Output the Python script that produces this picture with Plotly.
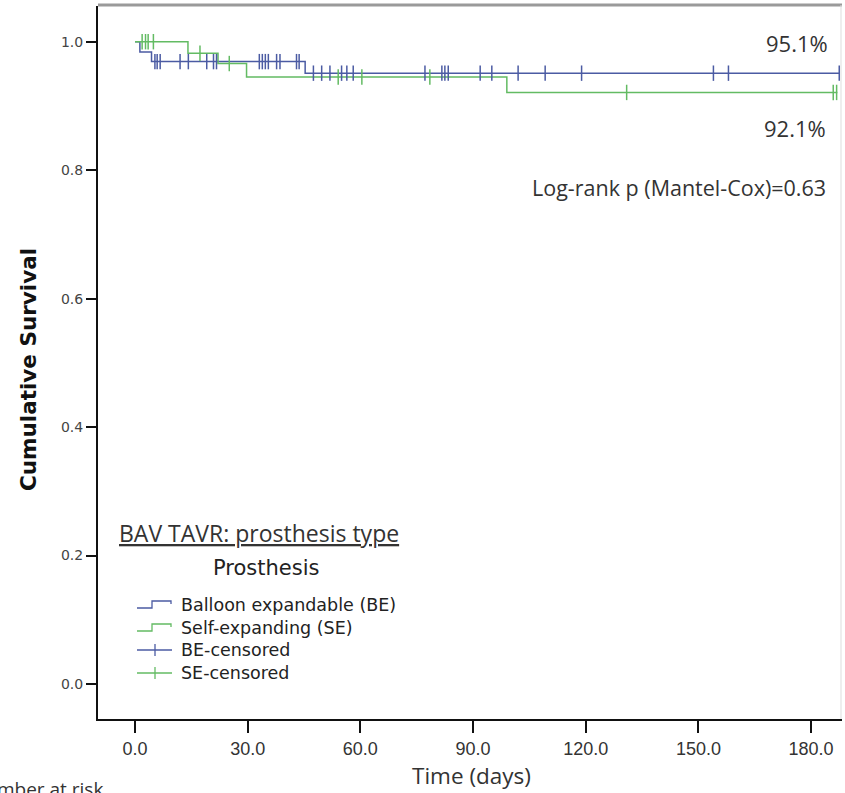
import numpy as np
import plotly.graph_objects as go

# ---------------- data ----------------
be_times = [0.0, 1.3, 4.4, 45.3]
be_surv = [1.0, 0.984, 0.969, 0.951]
be_end = 187.5

se_times = [0.0, 14.1, 22.1, 29.7, 99.0]
se_surv = [1.0, 0.982, 0.966, 0.945, 0.921]
se_end = 187.0

be_censored = [5.3, 5.9, 6.7, 12.0, 14.2, 19.1, 20.9, 21.7, 33.1, 33.9, 34.7, 35.5,
               37.7, 38.6, 43.0, 43.7, 47.5, 49.7, 51.9, 55.0, 56.4, 58.1, 77.2,
               81.7, 82.5, 83.4, 91.9, 95.0, 102.0, 109.2, 118.9, 154.0, 158.0, 187.5]
se_censored = [1.9, 2.8, 3.5, 4.9, 17.3, 25.1, 54.1, 60.4, 78.5, 130.9, 185.9, 186.8]

x_ticks = [0, 30, 60, 90, 120, 150, 180]
y_ticks = [0.0, 0.2, 0.4, 0.6, 0.8, 1.0]

BLUE = "#4b5ba3"
GREEN = "#63bb63"

W, H = 845, 793
L, R, T, B = 98, 3, 6, 74
PW, PH = W - L - R, H - T - B


def px(xp):
    return (xp - L) / PW


def py(yp):
    return (H - B - yp) / PH


def surv_at(times, surv, t):
    idx = np.searchsorted(np.array(times), np.array(t), side="right") - 1
    return list(np.array(surv)[idx])


fig = go.Figure()

for times, surv, end, col in [(be_times, be_surv, be_end, BLUE), (se_times, se_surv, se_end, GREEN)]:
    fig.add_trace(go.Scatter(x=list(times) + [end], y=list(surv) + [surv[-1]], mode="lines",
                             line=dict(color=col, width=1.5, shape="hv"), showlegend=False,
                             hoverinfo="skip"))

for cens, times, surv, col in [(be_censored, be_times, be_surv, BLUE), (se_censored, se_times, se_surv, GREEN)]:
    fig.add_trace(go.Scatter(x=cens, y=surv_at(times, surv, cens), mode="markers",
                             marker=dict(symbol="line-ns", size=11, line=dict(color=col, width=1.5)),
                             showlegend=False, hoverinfo="skip"))

CAL = "'Open Sans', Lato, sans-serif"
DJ = "'DejaVu Sans', sans-serif"
ARIAL = "'Liberation Sans', Arial, sans-serif"

ann = []
ann.append(dict(text="95.1%", x=px(830), y=py(43), xanchor="right", yanchor="middle",
                font=dict(family=CAL, size=22, color="#333")))
ann.append(dict(text="92.1%", x=px(828), y=py(128), xanchor="right", yanchor="middle",
                font=dict(family=CAL, size=22, color="#333")))
ann.append(dict(text="Log-rank p (Mantel-Cox)=0.63", x=px(828), y=py(187), xanchor="right",
                yanchor="middle", font=dict(family=CAL, size=21.5, color="#333")))
ann.append(dict(text="<u>BAV TAVR: prosthesis type</u>", x=px(117), y=py(533), xanchor="left",
                yanchor="middle", font=dict(family=CAL, size=23, color="#333")))
ann.append(dict(text="Prosthesis", x=px(266), y=py(568), xanchor="center", yanchor="middle",
                font=dict(family=DJ, size=21, color="#222")))
leg_texts = ["Balloon expandable (BE)", "Self-expanding (SE)", "BE-censored", "SE-censored"]
leg_y = [605, 628, 650, 673]
for t, yy in zip(leg_texts, leg_y):
    ann.append(dict(text=t, x=px(179), y=py(yy), xanchor="left", yanchor="middle",
                    font=dict(family=DJ, size=17.5, color="#222")))
ann.append(dict(text="Time (days)", x=px(471), y=py(775), xanchor="center", yanchor="middle",
                font=dict(family=CAL, size=22.5, color="#333")))
ann.append(dict(text="Number at risk", x=px(105), y=py(789), xanchor="right", yanchor="middle",
                font=dict(family=CAL, size=19, color="#333")))
ann.append(dict(text="<b>Cumulative Survival</b>", x=px(28), y=py(370), textangle=-90,
                xanchor="center", yanchor="middle",
                font=dict(family=DJ, size=21.5, color="#111")))
for a in ann:
    a.update(xref="paper", yref="paper", showarrow=False)

shapes = []
# top border (gray) and faint right border
shapes.append(dict(type="line", xref="paper", yref="paper", x0=0, x1=1, y0=py(5), y1=py(5),
                   line=dict(color="#9a9a9a", width=3)))
shapes.append(dict(type="line", xref="paper", yref="paper", x0=px(841), x1=px(841), y0=0, y1=py(5),
                   line=dict(color="#dddddd", width=1)))
# legend icons
for yy, col in [(605, BLUE), (628, GREEN)]:
    p = (f"M {px(137)},{py(yy + 3)} L {px(152)},{py(yy + 3)} L {px(152)},{py(yy - 4)} "
         f"L {px(171)},{py(yy - 4)} L {px(171)},{py(yy - 1)}")
    shapes.append(dict(type="path", xref="paper", yref="paper", path=p,
                       line=dict(color=col, width=1.3)))
for yy, col in [(650, BLUE), (673, GREEN)]:
    shapes.append(dict(type="line", xref="paper", yref="paper", x0=px(137), x1=px(172),
                       y0=py(yy), y1=py(yy), line=dict(color=col, width=1.3)))
    shapes.append(dict(type="line", xref="paper", yref="paper", x0=px(155), x1=px(155),
                       y0=py(yy - 6), y1=py(yy + 6), line=dict(color=col, width=1.3)))

x0 = (L - 135) / 3.756
x1 = (L + PW - 135) / 3.756
y0 = -(H - B - 684) / 642.3
y1 = 1 + (41.7 - T) / 642.3

fig.update_layout(
    width=W, height=H, margin=dict(l=L, r=R, t=T, b=B),
    paper_bgcolor="white", plot_bgcolor="white",
    annotations=ann, shapes=shapes, showlegend=False,
    xaxis=dict(range=[x0, x1], tickvals=x_ticks, tickformat=".1f", showgrid=False, zeroline=False,
               showline=True, linecolor="#111", linewidth=2, ticks="outside", ticklen=12,
               tickwidth=2, tickcolor="#111",
               tickfont=dict(family=ARIAL, size=18, color="#333")),
    yaxis=dict(range=[y0, y1], tickvals=y_ticks, tickformat=".1f", showgrid=False, zeroline=False,
               showline=True, linecolor="#111", linewidth=2, ticks="outside", ticklen=10,
               tickwidth=1.5, tickcolor="#111",
               tickfont=dict(family=DJ, size=14, color="#444")),
)

fig.write_html("out.html", config={"displayModeBar": False},
               post_script="document.body.style.margin='0';document.body.style.padding='0';")
